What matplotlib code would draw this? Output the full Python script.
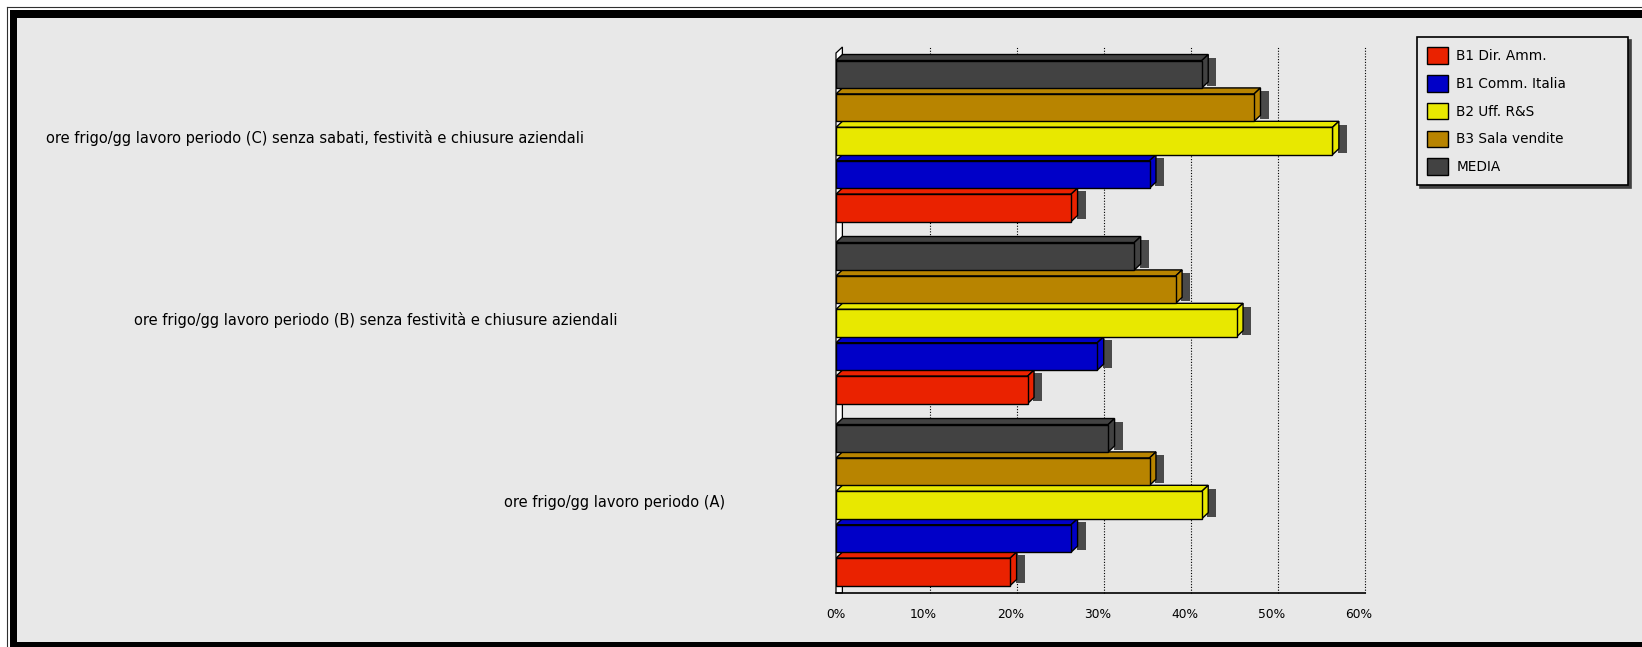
import matplotlib
matplotlib.use('Agg')
import matplotlib.pyplot as plt
from matplotlib.patches import Polygon, Rectangle, Patch
from matplotlib.lines import Line2D
from matplotlib import transforms

# dati (in %)
categorie = ['ore frigo/gg lavoro periodo (A)',
             'ore frigo/gg lavoro periodo (B) senza festività e chiusure aziendali',
             'ore frigo/gg lavoro periodo (C) senza sabati, festività e chiusure aziendali']
serie = ['B1 Dir. Amm.', 'B1 Comm. Italia', 'B2 Uff. R&S', 'B3 Sala vendite', 'MEDIA']
dir_amm = [20, 22, 27]
comm_italia = [27, 30, 36]
uff_rs = [42, 46, 57]
sala_vendite = [36, 39, 48]
media = [31.25, 34.25, 42]
tick_vals = [0, 10, 20, 30, 40, 50, 60]
tick_labels = ['0%', '10%', '20%', '30%', '40%', '50%', '60%']

colori = ['#ea2200', '#0000c8', '#e8e800', '#b88400', '#424242']
valori = [dir_amm, comm_italia, uff_rs, sala_vendite, media]

# layout in pixel
W, H = 1642, 647
def fx(px):
    return px / W
def fy(py):
    return 1 - py / H

label_x_px = [504, 134, 46]

fig = plt.figure(figsize=(W / 100, H / 100), dpi=100)
fig.patch.set_facecolor('white')

# cornice
fig.add_artist(Rectangle((fx(10), 0), 1, fy(10), transform=fig.transFigure,
                         facecolor='black', edgecolor='none', zorder=-10))
fig.add_artist(Rectangle((fx(17), fy(642)), 1, fy(18) - fy(642), transform=fig.transFigure,
                         facecolor='#e8e8e8', edgecolor='none', zorder=-9))
fig.add_artist(Line2D([fx(6.5), fx(6.5)], [0, fy(6.5)], transform=fig.transFigure,
                      color='#303030', lw=0.8, zorder=-8))
fig.add_artist(Line2D([fx(6.5), 1], [fy(6.5), fy(6.5)], transform=fig.transFigure,
                      color='#303030', lw=0.8, zorder=-8))

ax = fig.add_axes([fx(836), fy(593), (1358.6 - 836) / W, (593 - 47) / H])
ax.set_xlim(0, 60)
ax.set_ylim(-0.5, 2.5)
ax.patch.set_visible(False)
for s in ax.spines.values():
    s.set_visible(False)

dx = 6.4 / (522.6 / 60)   # profondità 3D in %
dy = 6 / 182               # profondità 3D in unità categoria
slot = 0.1835
hf = slot - dy
start = -0.4588

# parete sinistra e griglia
ax.add_patch(Polygon([(0, -0.5), (0, 2.5 - dy), (dx, 2.5), (dx, -0.5)], closed=True,
                     facecolor='white', edgecolor='black', lw=0.9, zorder=1, clip_on=False))
for t in tick_vals[1:]:
    ax.plot([t + dx, t + dx], [-0.5, 2.5], color='black', lw=0.8, ls=(0, (1, 1.5)),
            zorder=0.5, clip_on=False)
ax.plot([0, 60 + dx], [-0.5, -0.5], color='black', lw=1.2, zorder=1, clip_on=False)

# barre 3D
for i, (vals, col) in enumerate(zip(valori, colori)):
    ys = [c + start + i * slot for c in range(len(categorie))]
    for y0, v in zip(ys, vals):
        ax.add_patch(Rectangle((v + dx - 0.1, y0 + 0.012), dx + 0.3, hf + dy - 0.03,
                               facecolor='#4a4a4a', edgecolor='none', zorder=2))
        ax.add_patch(Polygon([(0, y0 + hf), (dx, y0 + hf + dy), (v + dx, y0 + hf + dy), (v, y0 + hf)],
                             closed=True, facecolor=col, edgecolor='black', lw=1.0, zorder=3))
        ax.add_patch(Polygon([(v, y0), (v + dx, y0 + dy), (v + dx, y0 + hf + dy), (v, y0 + hf)],
                             closed=True, facecolor=col, edgecolor='black', lw=1.0, zorder=3))
    ax.barh(ys, vals, height=hf, left=0, align='edge', color=col, edgecolor='black',
            linewidth=1.0, zorder=4)

ax.set_yticks([])
ax.set_xticks(tick_vals, tick_labels)
ax.tick_params(axis='x', length=0, pad=11, labelsize=8.8)

# etichette categorie
trans = transforms.blended_transform_factory(fig.transFigure, ax.transData)
for c, (lab, xp) in enumerate(zip(categorie, label_x_px)):
    fig.text(fx(xp), c, lab, transform=trans, ha='left', va='center', fontsize=10.5)

# legenda
handles = [Patch(facecolor=col, edgecolor='black', label=s) for s, col in zip(serie, colori)]
leg = ax.legend(handles=handles, loc='upper left', mode='expand',
                bbox_to_anchor=(fx(1417), fy(37), (1628 - 1417) / W, 0),
                bbox_transform=fig.transFigure, borderaxespad=0, fontsize=9.8,
                handlelength=1.54, handleheight=1.5, handletextpad=0.6,
                labelspacing=0.82, borderpad=0.75, fancybox=False, framealpha=1,
                facecolor='#e8e8e8', edgecolor='black',
                shadow={'facecolor': '#404040', 'edgecolor': '#404040', 'alpha': 1})
leg.get_frame().set_linewidth(1.2)

fig.savefig('out.png', dpi=100, facecolor=fig.get_facecolor())
